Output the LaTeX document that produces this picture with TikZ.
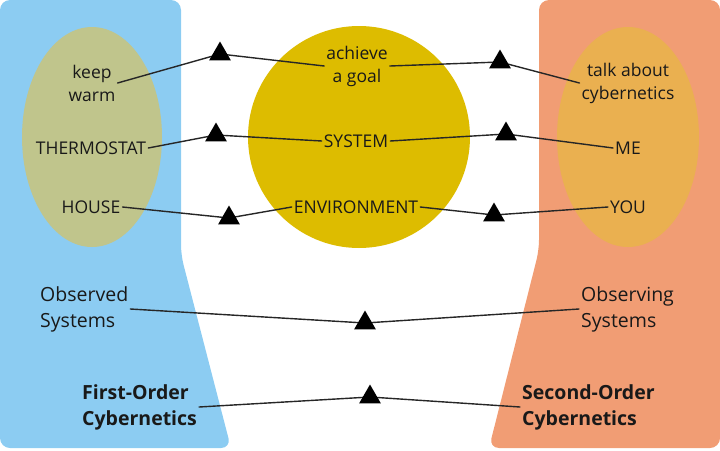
\documentclass[tikz,border=0pt]{standalone}
\usepackage{fontspec}
\setmainfont{Open Sans}
\usetikzlibrary{shapes.geometric}
\definecolor{panelblue}{RGB}{140,204,242}
\definecolor{panelorange}{RGB}{241,157,116}
\definecolor{ellgreen}{RGB}{192,197,140}
\definecolor{sunyellow}{RGB}{221,188,0}
\definecolor{ellorange}{RGB}{234,176,80}
\definecolor{textdark}{RGB}{25,25,25}
\begin{document}
\begin{tikzpicture}[x=1pt,y=-1pt, line join=round, line cap=round,
	lbl/.style={inner sep=2pt, text=textdark, font=\fontsize{17.5}{23}\selectfont, align=center},
	big/.style={inner sep=2pt, text=textdark, font=\fontsize{19.5}{26}\selectfont, align=left, anchor=west},
	tri/.style={regular polygon, regular polygon sides=3, fill=black, inner sep=0pt, minimum size=25pt},
	link/.style={line width=1.4pt, draw=black!85}]
			\useasboundingbox (0,0) rectangle (720,450);
			\fill[panelblue,rounded corners=10pt] (0,0)--(181,0)--(181,255)--(231,448)--(0,448)--cycle;
			\fill[panelorange,rounded corners=10pt] (720,0)--(539,0)--(539,250)--(489,448)--(720,448)--cycle;
			\fill[ellgreen] (92,137) ellipse [x radius=70, y radius=110];
			\fill[ellorange] (628,137) ellipse [x radius=71, y radius=110];
			\fill[sunyellow] (359,137) circle [radius=111];
			\node[lbl] (keep) at (92,83) {keep\\warm};
			\node[lbl] (thermo) at (91,148) {THERMOSTAT};
			\node[lbl] (house) at (91,207) {HOUSE};
			\node[lbl] (goal) at (357,66) {achieve\\a goal};
			\node[lbl] (system) at (356,141) {SYSTEM};
			\node[lbl] (env) at (356,207) {ENVIRONMENT};
			\node[lbl] (talk) at (628,83) {talk about\\cybernetics};
			\node[lbl] (me) at (628,148) {ME};
			\node[lbl] (you) at (628,207) {YOU};
			\node[big] (observed) at (38,309) {Observed\\Systems};
			\node[big] (observing) at (579,309) {Observing\\Systems};
			\node[big,font=\fontsize{19.5}{26}\selectfont\bfseries] (first) at (80,407) {First-Order\\Cybernetics};
			\node[big,font=\fontsize{19.5}{26}\selectfont\bfseries] (second) at (520,407) {Second-Order\\Cybernetics};
			\coordinate (m1) at (220,54);
			\coordinate (m2) at (500,62);
			\coordinate (m3) at (216,135);
			\coordinate (m4) at (506,134);
			\coordinate (m5) at (229,218);
			\coordinate (m6) at (494,215);
			\coordinate (m7) at (365,323);
			\coordinate (m8) at (370,397);
			\draw[link] (keep.east)--(m1)--(goal.west);
			\draw[link] (goal.east)--(m2)--(talk.west);
			\draw[link] (thermo.east)--(m3)--(system.west);
			\draw[link] (system.east)--(m4)--(me.west);
			\draw[link] (house.east)--(m5)--(env.west);
			\draw[link] (env.east)--(m6)--(you.west);
			\draw[link] (observed.east)--(m7)--(observing.west);
			\draw[link] (first.east)--(m8)--(second.west);
			\foreach \m in {m1,m2,m3,m4,m5,m6,m7,m8}
				\node[tri] at (\m) {};
			\end{tikzpicture}
\end{document}
